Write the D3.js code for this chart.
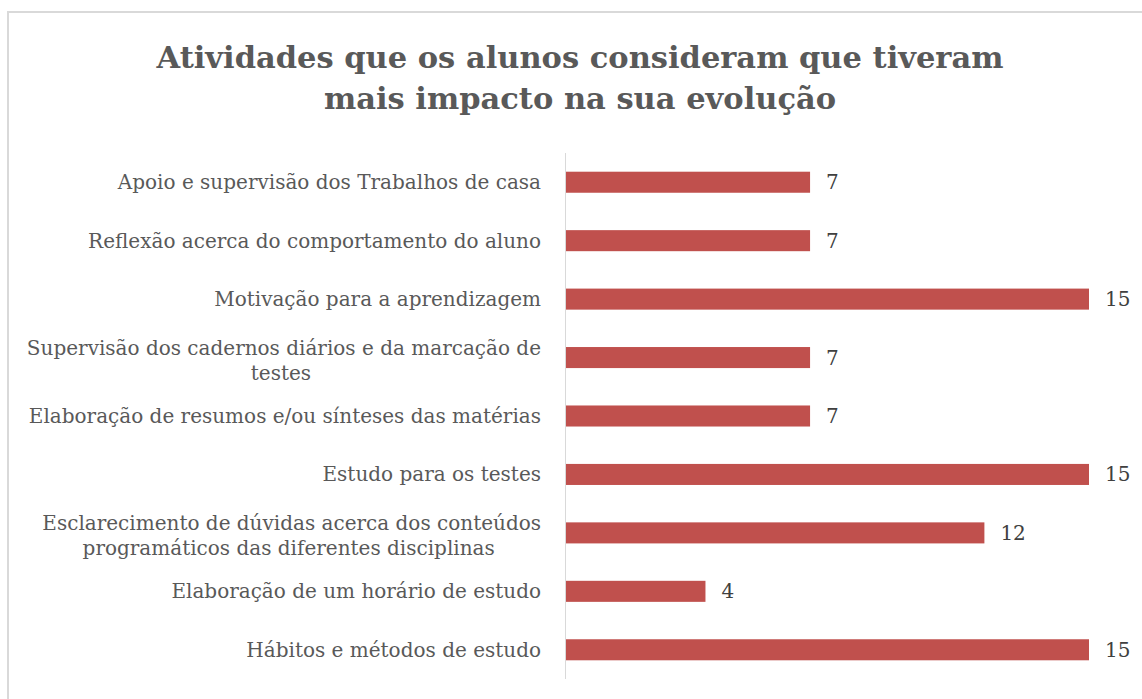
<!doctype html>
<html lang="pt">
<head>
  <meta charset="utf-8">
  <title>Atividades com mais impacto</title>
  <style>
    body { margin: 0; background: #fff; }
    .label { font-family: 'DejaVu Serif', serif; font-size: 20px; fill: #595959; }
    .value { font-family: 'DejaVu Serif', serif; font-size: 20px; fill: #404040; }
    .title { font-family: 'DejaVu Serif', serif; font-size: 30.5px; font-weight: bold; fill: #595959; }
  </style>
</head>
<body>
<div id="chart"></div>
<script src="https://d3js.org/d3.v7.min.js"></script>
<script>
  // categories, top to bottom (line breaks as in the original)
  const categories = [
    'Apoio e supervisão dos Trabalhos de casa',
    'Reflexão acerca do comportamento do aluno',
    'Motivação para a aprendizagem',
    'Supervisão dos cadernos diários e da marcação de\ntestes',
    'Elaboração de resumos e/ou sínteses das matérias',
    'Estudo para os testes',
    'Esclarecimento de dúvidas acerca dos conteúdos\nprogramáticos das diferentes disciplinas',
    'Elaboração de um horário de estudo',
    'Hábitos e métodos de estudo'
  ];
  const values = [7, 7, 15, 7, 7, 15, 12, 4, 15];
  const titleLines = ['Atividades que os alunos consideram que tiveram', 'mais impacto na sua evolução'];

  const width = 1142, height = 699;

  const svg = d3.select('#chart').append('svg')
    .attr('width', width)
    .attr('height', height);

  // chart area border (only top and left visible in the frame)
  svg.append('path')
    .attr('d', `M8,${height + 5} V12 H${width + 5}`)
    .attr('fill', 'none')
    .attr('stroke', '#d9d9d9')
    .attr('stroke-width', 2);

  // title
  svg.append('text')
    .attr('class', 'title')
    .attr('text-anchor', 'middle')
    .selectAll('tspan')
    .data(titleLines)
    .join('tspan')
    .attr('x', 580)
    .attr('y', (d, i) => 68 + i * 41)
    .text(d => d);

  const y = d3.scaleBand()
    .domain(categories)
    .range([153, 679])
    .paddingInner(0.64)
    .paddingOuter(0.32);

  const x = d3.scaleLinear()
    .domain([0, 15])
    .range([566, 1089]);

  // bars
  svg.append('g')
    .selectAll('rect')
    .data(values)
    .join('rect')
    .attr('x', x(0))
    .attr('y', (d, i) => y(categories[i]))
    .attr('width', d => x(d) - x(0))
    .attr('height', y.bandwidth())
    .attr('fill', '#c0504d');

  // vertical axis line
  svg.append('line')
    .attr('x1', 565.5).attr('x2', 565.5)
    .attr('y1', 153).attr('y2', 679)
    .attr('stroke', '#d9d9d9')
    .attr('stroke-width', 1);

  // value labels
  svg.append('g')
    .selectAll('text')
    .data(values)
    .join('text')
    .attr('class', 'value')
    .attr('x', d => x(d) + 16)
    .attr('y', (d, i) => y(categories[i]) + y.bandwidth() / 2)
    .attr('dy', '0.35em')
    .text(d => d);

  // category labels, multi-line ones centered within a right-aligned block
  const labelRight = 541;
  const labels = svg.append('g')
    .selectAll('text')
    .data(categories)
    .join('text')
    .attr('class', 'label')
    .attr('y', d => y(d) + y.bandwidth() / 2);

  labels.each(function (d) {
    const lines = d.split('\n');
    const t = d3.select(this);
    const lineH = 25;
    const shift = lines.length > 1 ? 3 : 0; // wrapped labels sit a little lower
    const spans = t.selectAll('tspan')
      .data(lines)
      .join('tspan')
      .attr('dy', (l, i) => i === 0 ? `${0.35 * 20 - (lines.length - 1) * lineH / 2 + shift}px` : `${lineH}px`)
      .text(l => l);
    // measure widths, center every line in the block (first line keeps its trailing space)
    const widths = spans.nodes().map(n => n.getComputedTextLength());
    const blockW = d3.max(widths);
    const space = lines.length > 1 ? 6 : 0;
    const cx = labelRight - (blockW + space) / 2 + space;
    spans.attr('x', (l, i) => i === 0 ? labelRight - widths[0] / 2 : cx - space)
      .attr('text-anchor', 'middle');
  });
</script>
</body>
</html>
